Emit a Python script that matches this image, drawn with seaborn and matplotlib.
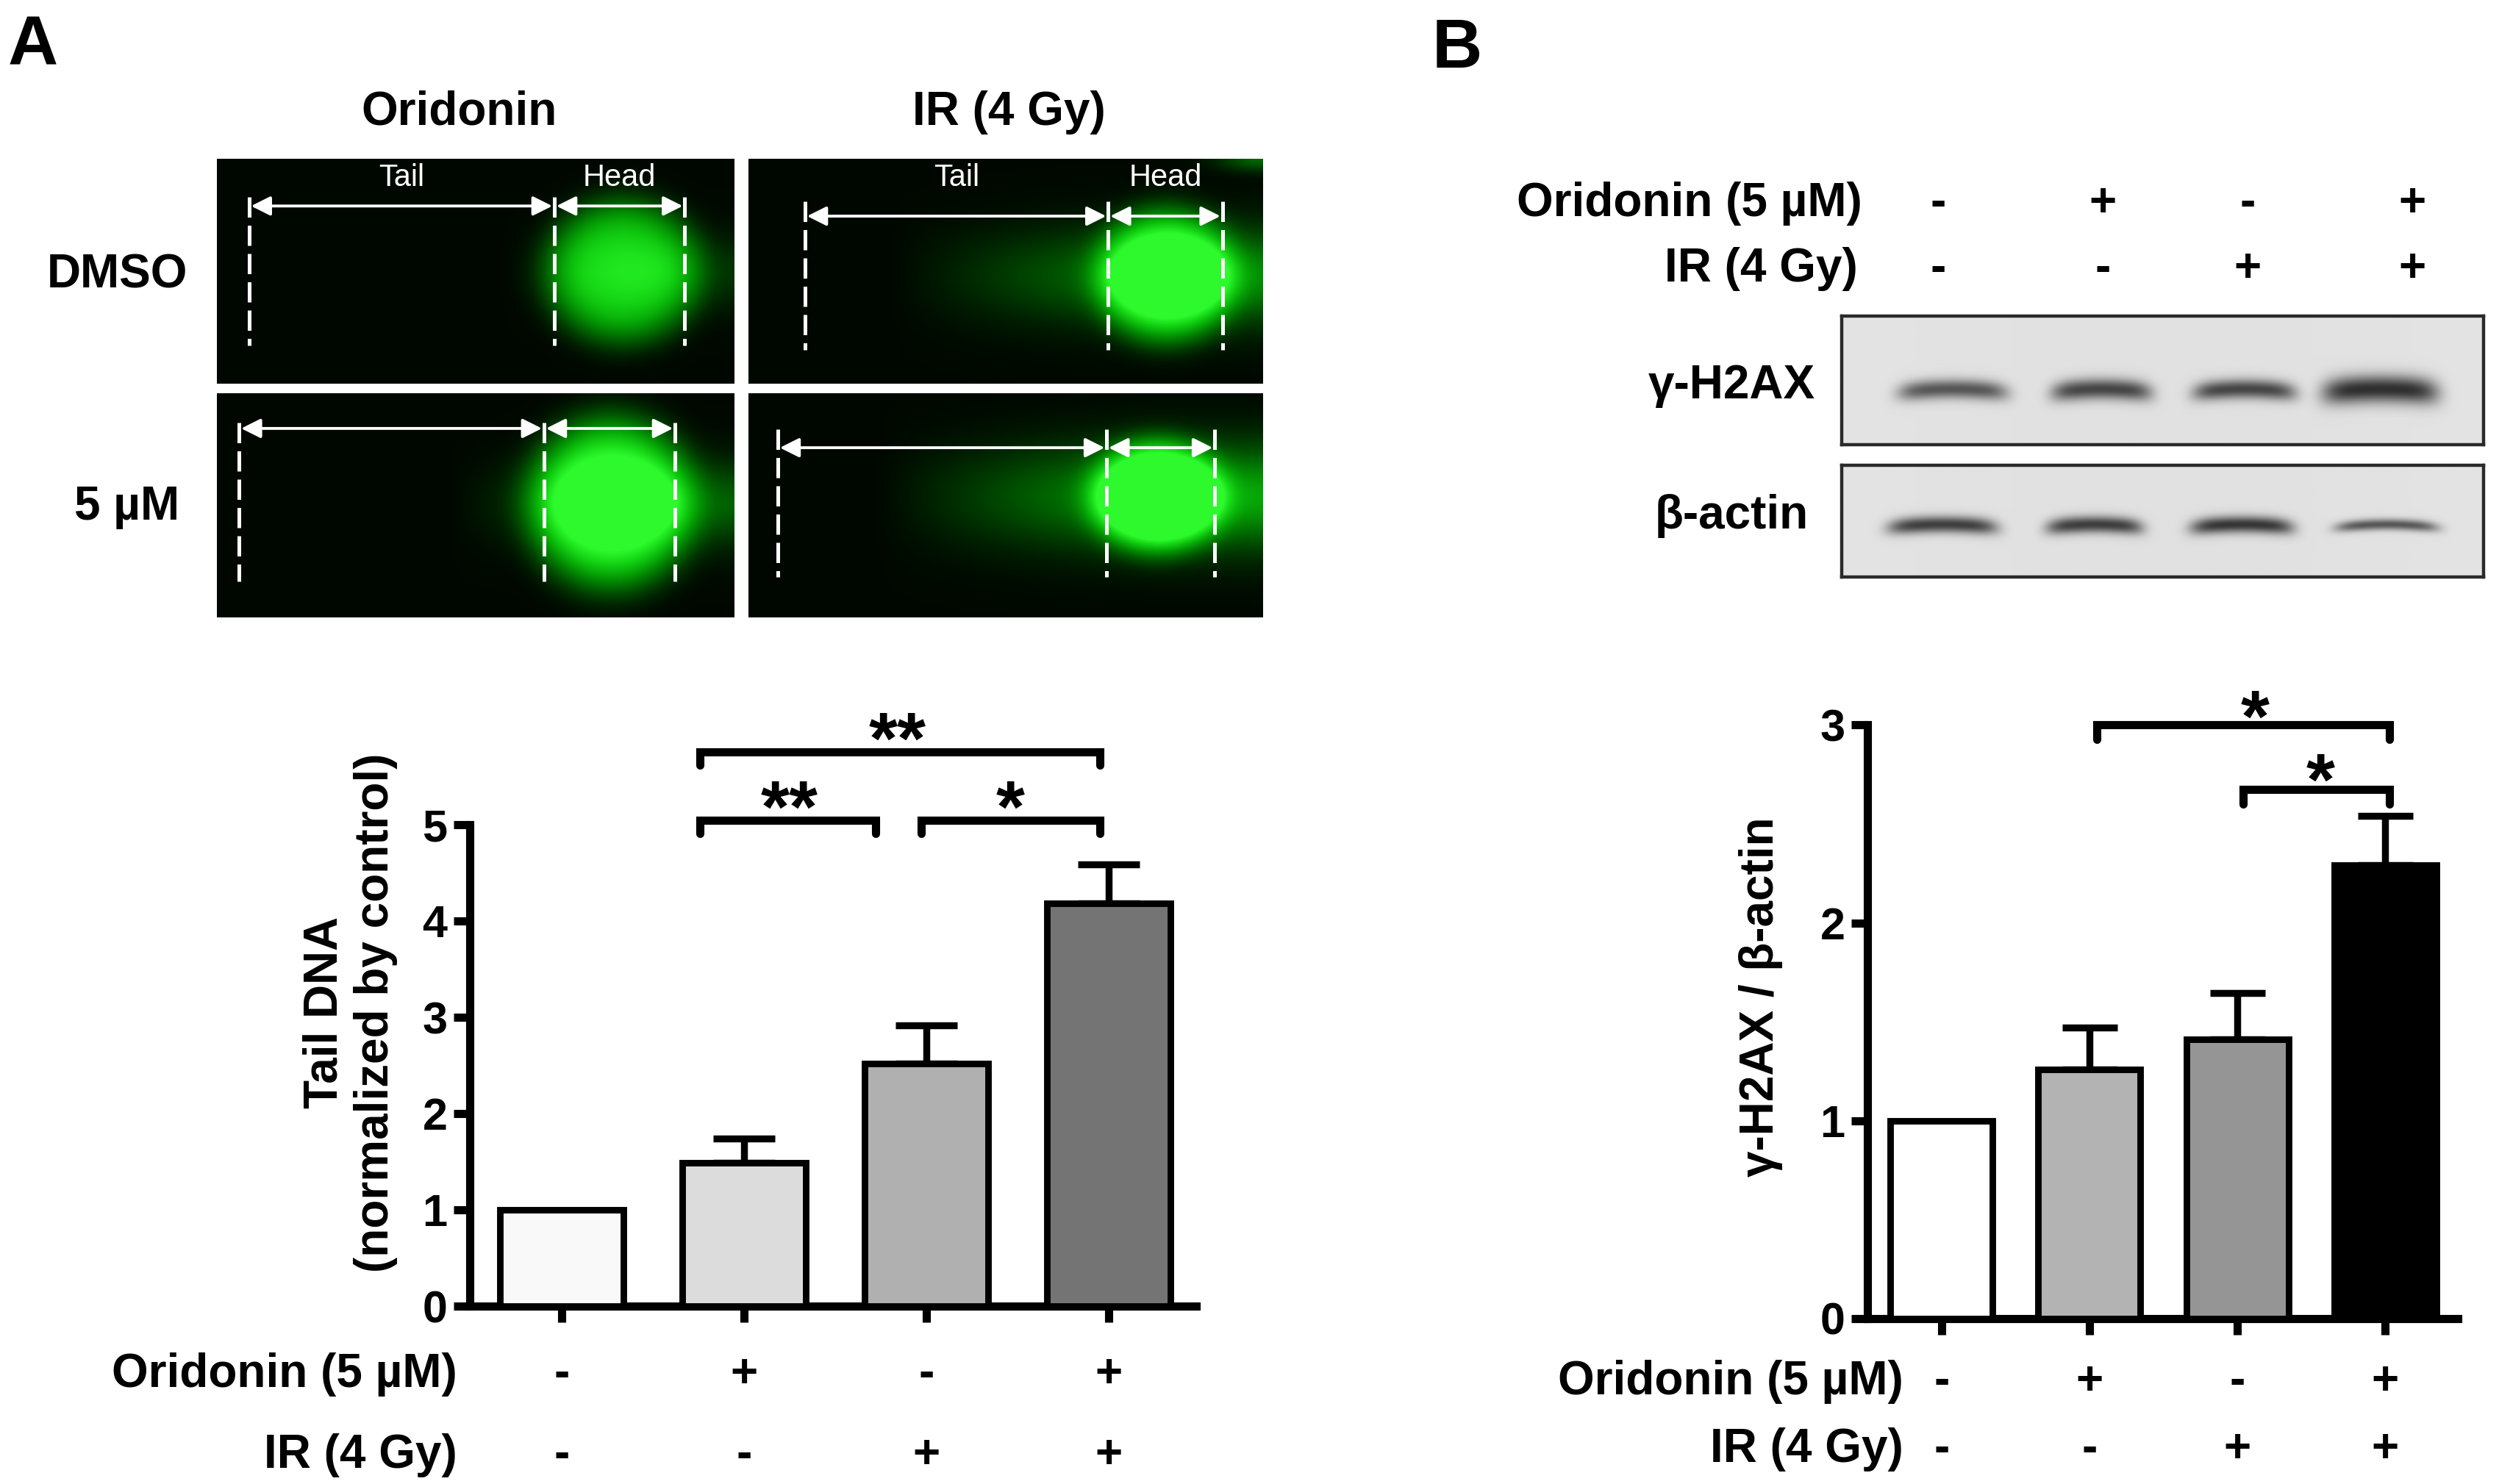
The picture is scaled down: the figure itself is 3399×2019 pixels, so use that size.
import numpy as np
import pandas as pd
import matplotlib
matplotlib.use("Agg")
import matplotlib.pyplot as plt
from matplotlib import transforms
import seaborn as sns

# ---------------- data ----------------
groups = ["Control", "Oridonin", "IR", "Oridonin+IR"]
oridonin_signs = ["-", "+", "-", "+"]
ir_signs = ["-", "-", "+", "+"]

tail_dna_mean = [1.00, 1.49, 2.52, 4.18]
tail_dna_sem = [0.00, 0.25, 0.40, 0.41]
tail_colors = ["#f9f9f9", "#dcdcdc", "#b0b0b0", "#747474"]

h2ax_mean = [1.00, 1.26, 1.41, 2.29]
h2ax_sem = [0.00, 0.21, 0.235, 0.25]
h2ax_colors = ["#ffffff", "#b3b3b3", "#959595", "#000000"]

# significance: (x_start, x_end, height, label)
sig_A = [(0.76, 1.72, 5.05, "**"), (1.97, 2.95, 5.05, "*"), (0.76, 2.95, 5.76, "**")]
star_A = [(1.25, 5.36), (2.46, 5.36), (1.84, 6.07)]
sig_B = [(1.05, 3.03, 3.00, "*"), (2.04, 3.03, 2.675, "*")]
star_B = [(2.12, 3.13), (2.56, 2.81)]

# western blot band darkness per lane
h2ax_band = [0.70, 0.78, 0.78, 0.90]
actin_band = [0.82, 0.82, 0.86, 0.70]

# comet panels: head centre x, y, radius x, y, head intensity, tail start, tail intensity, tail half-height
comet_specs = {
    "TL": (0.785, 0.50, 0.140, 0.30, 0.78, 0.55, 0.14, 0.16),
    "TR": (0.812, 0.52, 0.130, 0.28, 0.92, 0.28, 0.50, 0.20),
    "BL": (0.762, 0.49, 0.150, 0.36, 1.00, 0.45, 0.32, 0.18),
    "BR": (0.795, 0.46, 0.125, 0.24, 1.00, 0.25, 0.62, 0.22),
}
comet_marks = {  # dashed x positions, arrow y, dashed y range
    "TL": ((0.062, 0.652, 0.904), 0.21, (0.17, 0.83)),
    "TR": ((0.110, 0.699, 0.921), 0.255, (0.19, 0.85)),
    "BL": ((0.043, 0.632, 0.885), 0.157, (0.13, 0.84)),
    "BR": ((0.057, 0.696, 0.906), 0.243, (0.16, 0.82)),
}

# ---------------- figure ----------------
W, H, DPI = 3399, 2019, 200
sns.set_theme(style="white")
plt.rcParams["font.family"] = ["Liberation Sans", "DejaVu Sans"]
for key in ("text.color", "axes.labelcolor", "xtick.color", "ytick.color",
            "axes.edgecolor"):
    plt.rcParams[key] = "black"
plt.rcParams["axes.linewidth"] = 4
fig = plt.figure(figsize=(W / DPI, H / DPI), dpi=DPI)
fig.patch.set_facecolor("white")

FS = 23
TICK_FS = 22
LW = 4.0


def px_axes(x0, y0, x1, y1):
    return fig.add_axes([x0 / W, 1 - y1 / H, (x1 - x0) / W, (y1 - y0) / H])


def ftext(x, y, s, **kw):
    kw.setdefault("fontsize", FS)
    kw.setdefault("fontweight", "bold")
    kw.setdefault("color", "black")
    fig.text(x / W, 1 - y / H, s, **kw)


# panel letters
ftext(11, 20, "A", fontsize=34, ha="left", va="top")
ftext(1948, 23, "B", fontsize=34, ha="left", va="top")

# ---------------- comet images ----------------
ftext(625, 153, "Oridonin", ha="center", va="center")
ftext(1372, 153, "IR (4 Gy)", ha="center", va="center")
ftext(255, 375, "DMSO", ha="right", va="center")
ftext(244, 690, "5 µM", ha="right", va="center")

panel_boxes = {
    "TL": (295, 216, 999, 522),
    "TR": (1018, 216, 1718, 522),
    "BL": (295, 535, 999, 840),
    "BR": (1018, 535, 1718, 840),
}

nx, ny = 420, 180
X, Y = np.meshgrid(np.linspace(0, 1, nx), np.linspace(0, 1, ny))
for key, box in panel_boxes.items():
    cx, cy, rx, ry, hi, tx0, ti, tr = comet_specs[key]
    r2 = ((X - cx) / rx) ** 2 + ((Y - cy) / ry) ** 2
    head = hi * np.exp(-(r2 ** 2.2) * 0.8)
    ramp = np.clip((X - tx0) / (cx - tx0), 0, 1) ** 1.2
    tail = ti * ramp * np.exp(-((Y - cy) / tr) ** 2)
    inten = np.clip(head + tail, 0, 1)
    if key == "TR":
        inten = np.clip(inten + 0.35 * np.exp(-(((X - 1.0) / 0.08) ** 2 + (Y / 0.05) ** 2)), 0, 1)
    rgb = np.dstack([0.18 * inten ** 4, 0.03 + 0.95 * inten ** 0.9, 0.18 * inten ** 4])
    ax = px_axes(*box)
    ax.imshow(np.clip(rgb, 0, 1), extent=(0, 1, 1, 0), aspect="auto", interpolation="bilinear")
    ax.set_xlim(0, 1)
    ax.set_ylim(1, 0)
    ax.axis("off")
    xs, ya, (yd0, yd1) = comet_marks[key]
    for xd in xs:
        ax.plot([xd, xd], [yd0, yd1], color="white", lw=1.8, ls=(0, (5.5, 2.2)))
    for xa, xb in [(xs[0], xs[1]), (xs[1], xs[2])]:
        ax.annotate("", xy=(xb - 0.004, ya), xytext=(xa + 0.004, ya),
                    arrowprops=dict(arrowstyle="<|-|>", color="white", lw=1.4,
                                    mutation_scale=20, shrinkA=0, shrinkB=0))
    if key in ("TL", "TR"):
        ax.text((xs[0] + xs[1]) / 2, 0.085, "Tail", color="white", fontsize=15,
                ha="center", va="center")
        ax.text((xs[1] + xs[2]) / 2, 0.085, "Head", color="white", fontsize=15,
                ha="center", va="center")

# ---------------- western blot ----------------
blot_cols = [2636, 2860, 3057, 3281]
ftext(2533, 277, "Oridonin (5 µM)", ha="right", va="center")
ftext(2527, 366, "IR (4 Gy)", ha="right", va="center")
for xc, s1, s2 in zip(blot_cols, oridonin_signs, ir_signs):
    ftext(xc, 277, s1, ha="center", va="center")
    ftext(xc, 366, s2, ha="center", va="center")

ftext(2355, 525, "γ-H2AX", ha="center", va="center")
ftext(2355, 702, "β-actin", ha="center", va="center")

bx, by = np.meshgrid(np.linspace(0, 1, 600), np.linspace(0, 1, 140))


def blot(box, lanes_x, darkness, cy, hws, hhs):
    img = np.full(bx.shape, 0.90)
    img = img - 0.02 * np.exp(-((bx - 0.5) / 0.6) ** 2)
    for lx, d, hw, hh in zip(lanes_x, darkness, hws, hhs):
        dx = (bx - lx) / hw
        yc = cy + 0.03 * dx ** 2
        band = d * np.exp(-np.abs(dx) ** 6) * np.exp(-((by - yc) / hh) ** 2)
        img = img - 0.78 * band
    ax = px_axes(*box)
    ax.imshow(img, cmap="gray", vmin=0, vmax=1, extent=(0, 1, 1, 0),
              aspect="auto", interpolation="bilinear")
    ax.set_xticks([])
    ax.set_yticks([])
    for sp in ax.spines.values():
        sp.set_visible(True)
        sp.set_color("#2a2a2a")
        sp.set_linewidth(1.6)


blot((2505, 430, 3378, 605), [0.173, 0.405, 0.628, 0.840], h2ax_band, 0.57,
     [0.085, 0.078, 0.080, 0.090], [0.075, 0.080, 0.075, 0.105])
blot((2505, 633, 3378, 785), [0.157, 0.394, 0.624, 0.850], actin_band, 0.53,
     [0.085, 0.075, 0.080, 0.080], [0.075, 0.075, 0.075, 0.050])


# ---------------- bar charts ----------------
def bar_panel(ax, means, sems, colors, ymax_axis, ylim_top, width, capsize):
    df = pd.DataFrame({"group": groups, "value": means})
    sns.barplot(data=df, x="group", y="value", hue="group", order=groups,
                hue_order=groups, palette=colors, legend=False, ax=ax,
                width=width, edgecolor="black", linewidth=3.2, errorbar=None,
                saturation=1, zorder=3)
    idx = [i for i, s in enumerate(sems) if s > 0]
    ax.errorbar([i for i in idx], [means[i] for i in idx],
                yerr=[[0] * len(idx), [sems[i] for i in idx]],
                fmt="none", ecolor="black", elinewidth=3.4,
                capsize=capsize, capthick=3.4, zorder=2)
    ax.set_ylim(0, ylim_top)
    ax.set_xlabel("")
    ax.set_xticks(range(len(groups)))
    ax.set_xticklabels([""] * len(groups))
    ax.set_yticks(range(0, ymax_axis + 1))
    ax.set_yticklabels([str(v) for v in range(0, ymax_axis + 1)],
                       fontsize=TICK_FS, fontweight="bold", color="black")
    for side in ("top", "right"):
        ax.spines[side].set_visible(False)
    ax.spines["left"].set_bounds(0, ymax_axis)
    for side in ("left", "bottom"):
        ax.spines[side].set_color("black")
        ax.spines[side].set_linewidth(LW)
    ax.tick_params(axis="both", direction="out", length=8, width=LW,
                   color="black", labelcolor="black", left=True, bottom=True, pad=3)
    ax.set_facecolor("none")


# Panel A
axA = px_axes(639, 978, 1627, 1777)
bar_panel(axA, tail_dna_mean, tail_dna_sem, tail_colors, 5, 6.1, 0.68, 15)
axA.set_xlim(-0.504, 3.48)
axA.set_ylabel("Tail DNA\n(normalized by control)", fontsize=FS, color="black",
               fontweight="bold", labelpad=12, linespacing=1.2)
dA = 0.14
for x1, x2, y, lab in sig_A:
    axA.plot([x1, x1, x2, x2], [y - dA, y, y, y - dA], color="black", lw=LW,
             clip_on=False, solid_joinstyle="miter")
for (xs, ys), (_, _, _, lab) in zip(star_A, sig_A):
    axA.annotate(lab, xy=(xs, ys), xytext=(0, -0.57 * 36), textcoords="offset points",
                 ha="center", va="baseline", fontsize=36, fontweight="bold",
                 color="black", annotation_clip=False)
tA = transforms.blended_transform_factory(axA.transData, fig.transFigure)
ftext(622, 1870, "Oridonin (5 µM)", ha="right", va="center")
ftext(622, 1980, "IR (4 Gy)", ha="right", va="center")
for i, (s1, s2) in enumerate(zip(oridonin_signs, ir_signs)):
    axA.text(i, 1 - 1870 / H, s1, transform=tA, ha="center", va="center",
             fontsize=FS, fontweight="bold", color="black")
    axA.text(i, 1 - 1980 / H, s2, transform=tA, ha="center", va="center",
             fontsize=FS, fontweight="bold", color="black")

# Panel B
axB = px_axes(2540, 919, 3343, 1794)
bar_panel(axB, h2ax_mean, h2ax_sem, h2ax_colors, 3, 3.25, 0.69, 13.5)
axB.set_xlim(-0.50, 3.49)
axB.set_ylabel("γ-H2AX / β-actin", fontsize=FS, fontweight="bold",
               color="black", labelpad=18)
dB = 0.075
for x1, x2, y, lab in sig_B:
    axB.plot([x1, x1, x2, x2], [y - dB, y, y, y - dB], color="black", lw=LW,
             clip_on=False, solid_joinstyle="miter")
for (xs, ys), (_, _, _, lab) in zip(star_B, sig_B):
    axB.annotate(lab, xy=(xs, ys), xytext=(0, -0.57 * 36), textcoords="offset points",
                 ha="center", va="baseline", fontsize=36, fontweight="bold",
                 color="black", annotation_clip=False)
tB = transforms.blended_transform_factory(axB.transData, fig.transFigure)
ftext(2589, 1880, "Oridonin (5 µM)", ha="right", va="center")
ftext(2589, 1972, "IR (4 Gy)", ha="right", va="center")
for i, (s1, s2) in enumerate(zip(oridonin_signs, ir_signs)):
    axB.text(i, 1 - 1880 / H, s1, transform=tB, ha="center", va="center",
             fontsize=FS, fontweight="bold", color="black")
    axB.text(i, 1 - 1972 / H, s2, transform=tB, ha="center", va="center",
             fontsize=FS, fontweight="bold", color="black")

fig.savefig("out.png", dpi=DPI, facecolor="white")
